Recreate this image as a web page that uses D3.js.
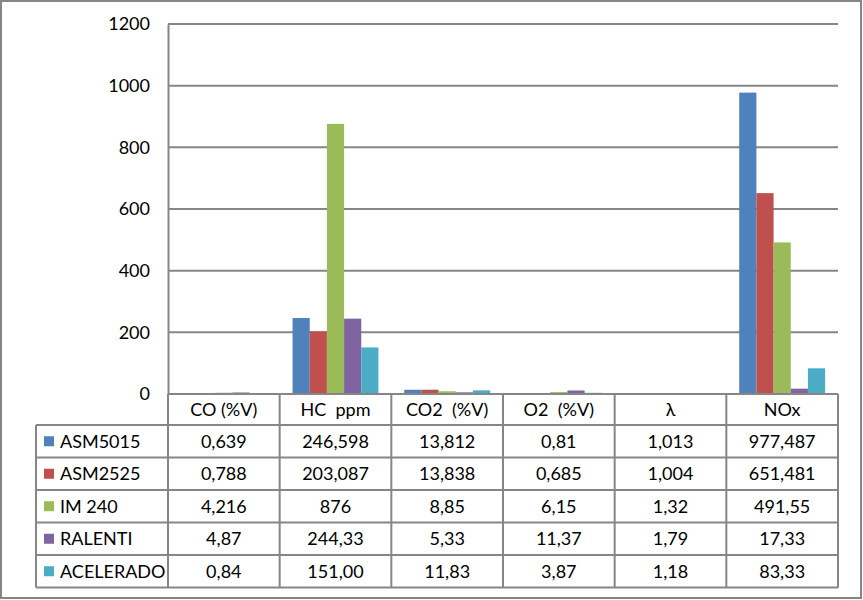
<!DOCTYPE html>
<html>
<head>
<meta charset="utf-8">
<script src="https://cdn.jsdelivr.net/npm/d3@7"></script>
<style>
  body { margin: 0; background: #fff; }
  svg { font-family: Lato, "Open Sans", sans-serif; }
</style>
</head>
<body>
<svg></svg>
<script>
var width = 863;
var height = 600;
var svg = d3.select("svg");
svg.attr('width', width).attr('height', height);

var categories = ['CO (%V)', 'HC  ppm', 'CO2  (%V)', 'O2  (%V)', 'λ', 'NOx'];
var seriesNames = ['ASM5015', 'ASM2525', 'IM 240', 'RALENTI', 'ACELERADO'];
var asm5015 = [0.639, 246.598, 13.812, 0.81, 1.013, 977.487];
var asm2525 = [0.788, 203.087, 13.838, 0.685, 1.004, 651.481];
var im240 = [4.216, 876, 8.85, 6.15, 1.32, 491.55];
var ralenti = [4.87, 244.33, 5.33, 11.37, 1.79, 17.33];
var acelerado = [0.84, 151.00, 11.83, 3.87, 1.18, 83.33];
var tableText = [
  ['0,639', '246,598', '13,812', '0,81', '1,013', '977,487'],
  ['0,788', '203,087', '13,838', '0,685', '1,004', '651,481'],
  ['4,216', '876', '8,85', '6,15', '1,32', '491,55'],
  ['4,87', '244,33', '5,33', '11,37', '1,79', '17,33'],
  ['0,84', '151,00', '11,83', '3,87', '1,18', '83,33']
];
var yTicks = [0, 200, 400, 600, 800, 1000, 1200];
var colors = ['#4F81BD', '#C0504D', '#9BBB59', '#8064A2', '#4BACC6'];

var series = [asm5015, asm2525, im240, ralenti, acelerado];
var grey = '#868686';
var fontSize = 18;

var plotLeft = 168, plotRight = 838, plotTop = 24, plotBottom = 394;
var headerH = 31, rowH = 32.5, legendLeft = 36;

// outer frame
svg.append('rect')
  .attr('x', 1).attr('y', 1)
  .attr('width', width - 3).attr('height', height - 3)
  .attr('fill', 'none').attr('stroke', grey).attr('stroke-width', 2);

var xScale = d3.scaleBand()
  .domain(categories)
  .range([plotLeft, plotRight]);

var xInner = d3.scaleBand()
  .domain(d3.range(seriesNames.length))
  .range([0, xScale.bandwidth()])
  .paddingOuter(0.75);

var yScale = d3.scaleLinear()
  .domain([0, 1200])
  .range([plotBottom, plotTop]);

// gridlines
svg.append('g').selectAll('line')
  .data(yTicks)
  .enter()
  .append('line')
  .attr('x1', plotLeft).attr('x2', plotRight)
  .attr('y1', function(d) { return yScale(d); })
  .attr('y2', function(d) { return yScale(d); })
  .attr('stroke', grey).attr('stroke-width', 2);

// y axis
var yAxis = d3.axisLeft(yScale).tickValues(yTicks).tickFormat(d3.format('d'))
  .tickSize(0).tickPadding(18);
var yg = svg.append('g')
  .attr('transform', 'translate(' + plotLeft + ',0)')
  .call(yAxis);
yg.select('.domain').attr('stroke', grey).attr('stroke-width', 2);
yg.selectAll('text').attr('font-size', fontSize).attr('fill', '#000')
  .attr('font-family', 'Lato, sans-serif');

// bars
series.forEach(function(values, i) {
  svg.append('g').selectAll('rect')
    .data(values)
    .enter()
    .append('rect')
    .attr('x', function(d, j) { return xScale(categories[j]) + xInner(i); })
    .attr('y', function(d) { return yScale(d); })
    .attr('width', xInner.bandwidth())
    .attr('height', function(d) { return plotBottom - yScale(d); })
    .attr('fill', colors[i]);
});

// data table
var tableBottom = plotBottom + headerH + rowH * seriesNames.length;
var tbl = svg.append('g')
  .attr('stroke', grey).attr('stroke-width', 2);

// horizontal lines
tbl.append('line')
  .attr('x1', plotLeft).attr('x2', plotRight)
  .attr('y1', plotBottom).attr('y2', plotBottom);
d3.range(seriesNames.length + 1).forEach(function(r) {
  var y = plotBottom + headerH + r * rowH;
  tbl.append('line')
    .attr('x1', legendLeft).attr('x2', plotRight)
    .attr('y1', y).attr('y2', y);
});
// vertical lines
categories.forEach(function(c) {
  tbl.append('line')
    .attr('x1', xScale(c)).attr('x2', xScale(c))
    .attr('y1', plotBottom).attr('y2', tableBottom);
});
tbl.append('line')
  .attr('x1', plotRight).attr('x2', plotRight)
  .attr('y1', plotBottom).attr('y2', tableBottom);
tbl.append('line')
  .attr('x1', legendLeft).attr('x2', legendLeft)
  .attr('y1', plotBottom + headerH).attr('y2', tableBottom);

// header text
svg.append('g').selectAll('text')
  .data(categories)
  .enter()
  .append('text')
  .attr('x', function(d) { return xScale(d) + xScale.bandwidth() / 2; })
  .attr('y', plotBottom + headerH / 2)
  .attr('dy', '0.35em')
  .attr('text-anchor', 'middle')
  .attr('font-size', fontSize)
  .style('white-space', 'pre')
  .text(function(d) { return d; });

// rows
tableText.forEach(function(row, i) {
  var yMid = plotBottom + headerH + i * rowH + rowH / 2;
  svg.append('rect')
    .attr('x', legendLeft + 8).attr('y', yMid - 5)
    .attr('width', 10).attr('height', 10)
    .attr('fill', colors[i]);
  svg.append('text')
    .attr('x', legendLeft + 24).attr('y', yMid)
    .attr('dy', '0.35em')
    .attr('font-size', fontSize)
    .text(seriesNames[i]);
  svg.append('g').selectAll('text')
    .data(row)
    .enter()
    .append('text')
    .attr('x', function(d, j) { return xScale(categories[j]) + xScale.bandwidth() / 2; })
    .attr('y', yMid)
    .attr('dy', '0.35em')
    .attr('text-anchor', 'middle')
    .attr('font-size', fontSize)
    .text(function(d) { return d; });
});
</script>
</body>
</html>
